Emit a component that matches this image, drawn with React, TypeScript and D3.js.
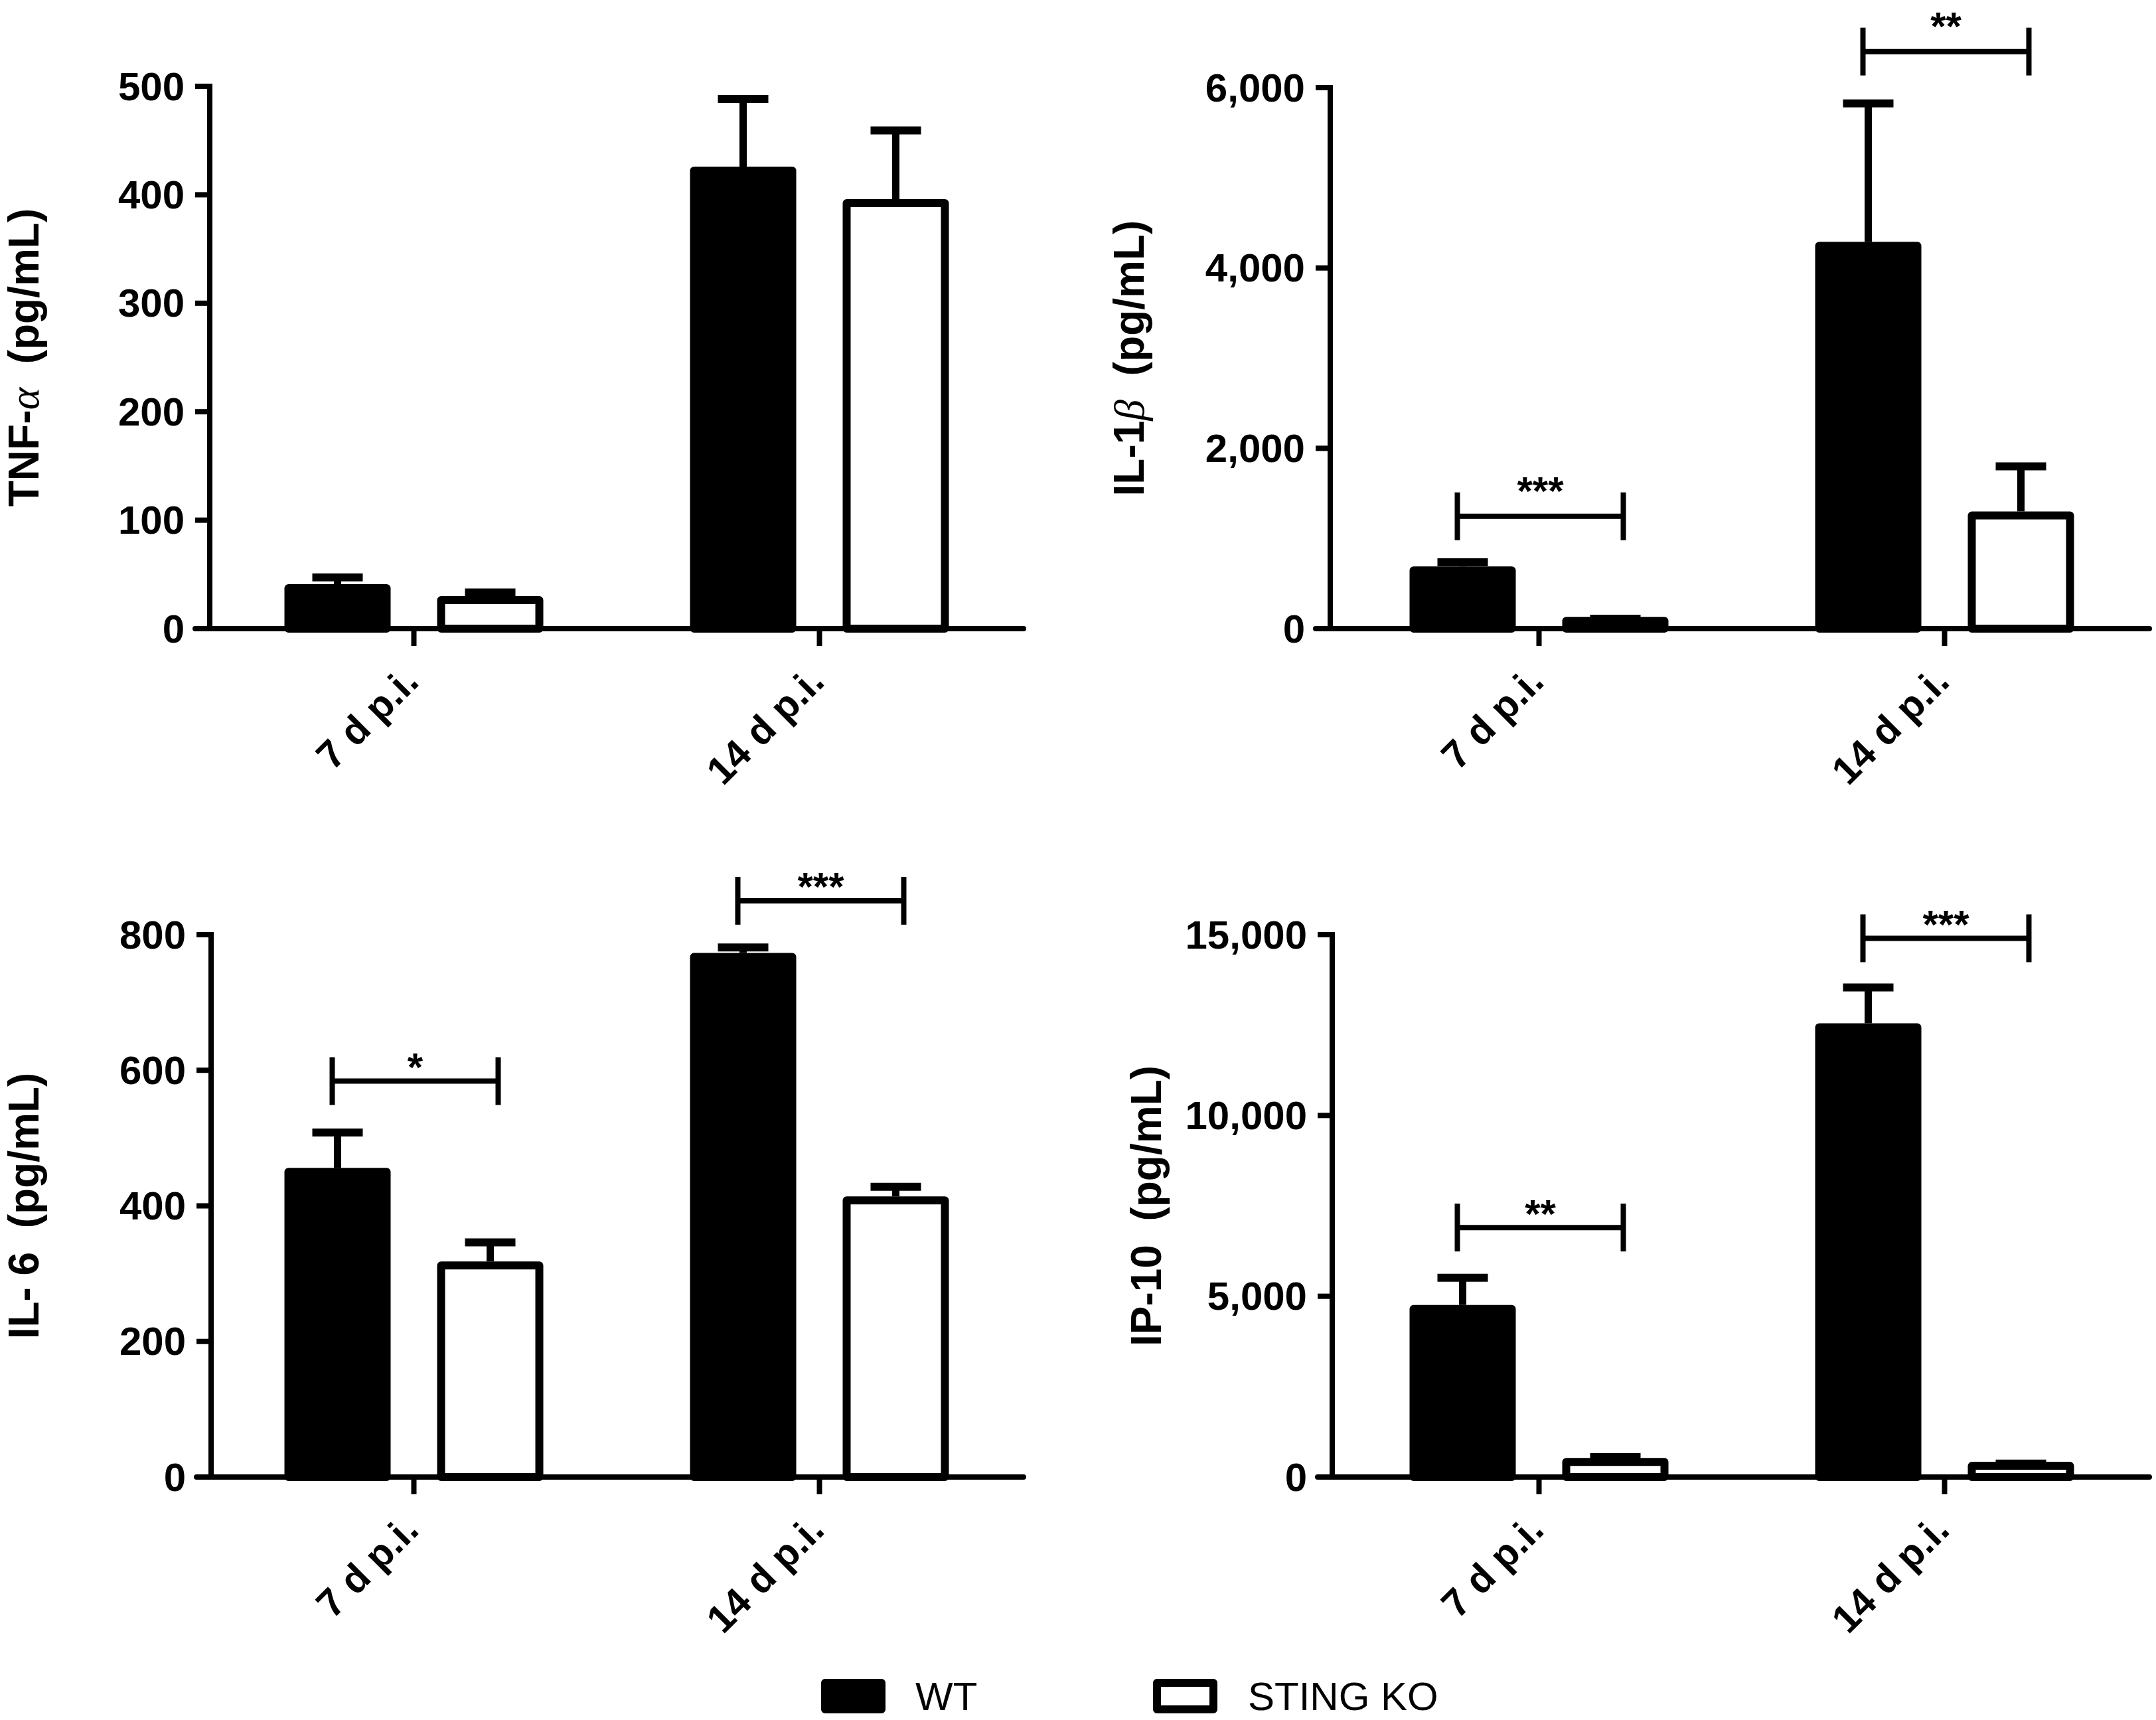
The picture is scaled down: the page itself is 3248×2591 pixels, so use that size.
import React from 'react';
import * as d3 from 'd3';

const categories = ['7 d p.i.', '14 d p.i.'];
const seriesNames = ['WT', 'STING KO'];

// TNF-α
const tnfWT = [41, 426];
const tnfWTErr = [10, 66];
const tnfKO = [30, 396];
const tnfKOErr = [7, 67];
const tnfTicks = [0, 100, 200, 300, 400, 500];

// IL-1β
const il1bWT = [690, 4290];
const il1bWTErr = [90, 1580];
const il1bKO = [130, 1300];
const il1bKOErr = [25, 545];
const il1bTicks = [0, 2000, 4000, 6000];
const il1bSigY = [1246, 6400];
const il1bSigText = ['***', '**'];

// IL-6
const il6WT = [456, 773];
const il6WTErr = [58, 14];
const il6KO = [318, 414];
const il6KOErr = [34, 20];
const il6Ticks = [0, 200, 400, 600, 800];
const il6SigY = [584, 850];
const il6SigText = ['*', '***'];

// IP-10
const ip10WT = [4760, 12550];
const ip10WTErr = [865, 1100];
const ip10KO = [530, 420];
const ip10KOErr = [130, 60];
const ip10Ticks = [0, 5000, 10000, 15000];
const ip10SigY = [6900, 14900];
const ip10SigText = ['**', '***'];

const FONT = '"Liberation Sans", Arial, Helvetica, sans-serif';
const GREEK = '"Liberation Serif", "DejaVu Serif", serif';

interface Layout {
  axisX: number;
  bandX: number;
  y0: number;
  yTop: number;
  axisEnd: number;
  labelX: number;
  starGap: number;
}

interface PanelProps {
  label: [string, string, string];
  wt: number[];
  wtErr: number[];
  ko: number[];
  koErr: number[];
  ticks: number[];
  sigY?: number[];
  sigText?: string[];
  layout: Layout;
}

function Panel({ label, wt, wtErr, ko, koErr, ticks, sigY = [], sigText = [], layout }: PanelProps) {
  const { axisX, bandX, y0, yTop, axisEnd, labelX, starGap } = layout;
  const y = d3.scaleLinear().domain([0, ticks[ticks.length - 1]]).range([y0, yTop]);
  const x0 = d3.scaleBand().domain(categories).range([bandX, bandX + 1222]);
  const x1 = d3.scaleBand().domain(seriesNames).range([-195, 195]).paddingInner(0.3043);
  const fmt = d3.format(',');
  const bw = x1.bandwidth();
  const sw = 12;

  const center = (c: string) => (x0(c) ?? 0) + x0.bandwidth() / 2;
  const barLeft = (c: string, s: string) => center(c) + (x1(s) ?? 0);

  const bars = categories.flatMap((c, i) => [
    { c, s: 'WT', v: wt[i], e: wtErr[i] },
    { c, s: 'STING KO', v: ko[i], e: koErr[i] },
  ]);

  return (
    <g>
      {/* bars */}
      {bars.map((b, i) => {
        const left = barLeft(b.c, b.s);
        const top = y(b.v);
        const isWT = b.s === 'WT';
        return (
          <rect
            key={'bar' + i}
            x={left + sw / 2}
            y={top + sw / 2}
            width={bw - sw}
            height={Math.max(0, y0 - top - sw / 2)}
            fill={isWT ? '#000' : '#fff'}
            stroke="#000"
            strokeWidth={sw}
            strokeLinejoin="round"
          />
        );
      })}
      {/* error bars */}
      {bars.map((b, i) => {
        const cx = barLeft(b.c, b.s) + bw / 2;
        const top = y(b.v);
        const capY = y(b.v + b.e);
        return (
          <g key={'err' + i} stroke="#000">
            <line x1={cx} x2={cx} y1={top} y2={capY + 6} strokeWidth={11} />
            <line x1={cx - 38} x2={cx + 38} y1={capY + 6} y2={capY + 6} strokeWidth={12} />
          </g>
        );
      })}
      {/* axes */}
      <line x1={axisX} x2={axisX} y1={yTop - 4} y2={y0 + 4} stroke="#000" strokeWidth={8} />
      <line
        x1={axisX - 22}
        x2={axisEnd}
        y1={y0}
        y2={y0}
        stroke="#000"
        strokeWidth={8}
        strokeLinecap="round"
      />
      {ticks.map((t) => (
        <g key={'yt' + t}>
          <line x1={axisX - 22} x2={axisX} y1={y(t)} y2={y(t)} stroke="#000" strokeWidth={8} />
          <text
            x={axisX - 38}
            y={y(t)}
            textAnchor="end"
            dominantBaseline="central"
            fontFamily={FONT}
            fontWeight="bold"
            fontSize={60}
          >
            {fmt(t)}
          </text>
        </g>
      ))}
      {categories.map((c) => (
        <g key={'xt' + c}>
          <line x1={center(c)} x2={center(c)} y1={y0} y2={y0 + 26} stroke="#000" strokeWidth={8} />
          <text
            transform={`translate(${center(c) + 10},${y0 + 83}) rotate(-45)`}
            textAnchor="end"
            fontFamily={FONT}
            fontWeight="bold"
            fontSize={59}
          >
            {c}
          </text>
        </g>
      ))}
      {/* y label */}
      <text
        transform={`translate(${labelX},${(y0 + yTop) / 2}) rotate(-90)`}
        textAnchor="middle"
        fontFamily={FONT}
        fontWeight="bold"
        fontSize={64}
        style={{ whiteSpace: 'pre' }}
      >
        {label[0]}
        {label[1] && (
          <tspan fontFamily={GREEK} fontWeight="normal" fontStyle="italic">
            {label[1]}
          </tspan>
        )}
        {label[2]}
      </text>
      {/* significance brackets */}
      {sigY.map((v, i) => {
        const c = categories[i];
        const xa = barLeft(c, 'WT') + bw / 2 - 8;
        const xb = barLeft(c, 'STING KO') + bw / 2 + 12;
        const yy = y(v);
        return (
          <g key={'sig' + i} stroke="#000" strokeWidth={8}>
            <line x1={xa} x2={xb} y1={yy} y2={yy} />
            <line x1={xa} x2={xa} y1={yy - 36} y2={yy + 36} />
            <line x1={xb} x2={xb} y1={yy - 36} y2={yy + 36} />
            <text
              x={(xa + xb) / 2}
              y={yy - starGap + 34}
              textAnchor="middle"
              stroke="none"
              fontFamily={FONT}
              fontWeight="bold"
              fontSize={60}
            >
              {sigText[i]}
            </text>
          </g>
        );
      })}
    </g>
  );
}

export default function App() {
  return (
    <svg
      width={3248}
      height={2591}
      viewBox="0 0 3248 2591"
      style={{ position: 'absolute', left: 0, top: 0, background: '#fff' }}
    >
      <rect width={3248} height={2591} fill="#fff" />
      <Panel
        label={['TNF-', 'α', '  (pg/mL)']}
        wt={tnfWT}
        wtErr={tnfWTErr}
        ko={tnfKO}
        koErr={tnfKOErr}
        ticks={tnfTicks}
        layout={{ axisX: 316, bandX: 318, y0: 947, yTop: 130, axisEnd: 1542, labelX: 58, starGap: 52 }}
      />
      <Panel
        label={['IL-1', 'β', '  (pg/mL)']}
        wt={il1bWT}
        wtErr={il1bWTErr}
        ko={il1bKO}
        koErr={il1bKOErr}
        ticks={il1bTicks}
        sigY={il1bSigY}
        sigText={il1bSigText}
        layout={{ axisX: 2004, bandX: 2013, y0: 947, yTop: 132, axisEnd: 3238, labelX: 1723, starGap: 52 }}
      />
      <Panel
        label={['IL- 6', '', '  (pg/mL)']}
        wt={il6WT}
        wtErr={il6WTErr}
        ko={il6KO}
        koErr={il6KOErr}
        ticks={il6Ticks}
        sigY={il6SigY}
        sigText={il6SigText}
        layout={{ axisX: 318, bandX: 318, y0: 2225, yTop: 1408, axisEnd: 1542, labelX: 58, starGap: 35 }}
      />
      <Panel
        label={['IP-10', '', '  (pg/mL)']}
        wt={ip10WT}
        wtErr={ip10WTErr}
        ko={ip10KO}
        koErr={ip10KOErr}
        ticks={ip10Ticks}
        sigY={ip10SigY}
        sigText={ip10SigText}
        layout={{ axisX: 2007, bandX: 2013, y0: 2225, yTop: 1408, axisEnd: 3238, labelX: 1749, starGap: 34 }}
      />
      {/* legend */}
      <g fontFamily={FONT} fontSize={60}>
        <rect x={1243} y={2535} width={85} height={40} fill="#000" stroke="#000" strokeWidth={12} strokeLinejoin="round" />
        <text x={1379} y={2576}>{seriesNames[0]}</text>
        <rect x={1743} y={2535} width={85} height={40} fill="#fff" stroke="#000" strokeWidth={12} strokeLinejoin="round" />
        <text x={1880} y={2576}>{seriesNames[1]}</text>
      </g>
    </svg>
  );
}
